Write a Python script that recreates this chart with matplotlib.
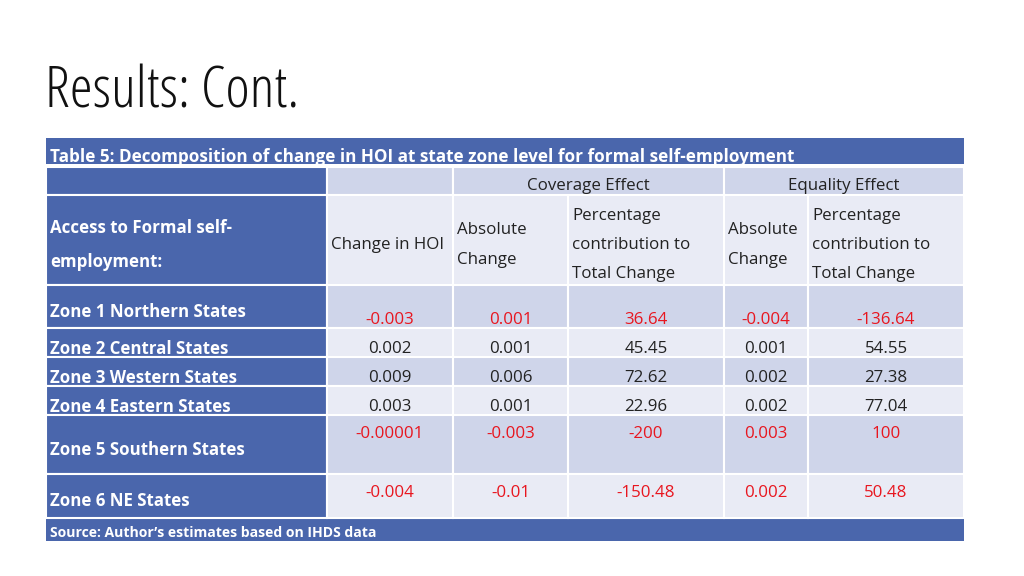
import matplotlib.pyplot as plt
from matplotlib.patches import Rectangle

# table content
title = "Results: Cont."
caption = "Table 5: Decomposition of change in HOI at state zone level for formal self-employment"
source = "Source: Author\u2019s estimates based on IHDS data"
group_headers = ["Coverage Effect", "Equality Effect"]
col_headers = ["Access to Formal self-\nemployment:", "Change in HOI", "Absolute\nChange",
               "Percentage\ncontribution to\nTotal Change", "Absolute\nChange",
               "Percentage\ncontribution to\nTotal Change"]
zones = ["Zone 1 Northern States", "Zone 2 Central States", "Zone 3 Western States",
         "Zone 4 Eastern States", "Zone 5 Southern States", "Zone 6 NE States"]
change_hoi = ["-0.003", "0.002", "0.009", "0.003", "-0.00001", "-0.004"]
cov_abs = ["0.001", "0.001", "0.006", "0.001", "-0.003", "-0.01"]
cov_pct = ["36.64", "45.45", "72.62", "22.96", "-200", "-150.48"]
eq_abs = ["-0.004", "0.001", "0.002", "0.002", "0.003", "0.002"]
eq_pct = ["-136.64", "54.55", "27.38", "77.04", "100", "50.48"]
highlight = [True, False, False, False, True, True]

# layout (pixels)
col_edges = [46, 327, 453, 568, 724, 808, 964]
row_edges = [167, 195, 285, 328, 357, 386, 415, 474, 518]  # header2, header3, zones...
label_y = [312, 349, 378, 407, 450, 501]
value_y = [320, 349, 378, 407, 434, 493]

BLUE = "#4a66ac"
DARK = "#cfd5ea"
LIGHT = "#e9ebf5"
RED = "#e8161f"
FONT = "Open Sans"
FS = 12.2

fig = plt.figure(figsize=(10.24, 5.76), dpi=100)
ax = fig.add_axes([0, 0, 1, 1])
ax.set_xlim(0, 1024)
ax.set_ylim(576, 0)
ax.axis("off")

ax.text(45, 107, title, fontsize=42, family="Open Sans", fontstretch="condensed",
        fontweight=300, color="#111111", va="baseline", ha="left")

# caption band and source band
ax.add_patch(Rectangle((46, 138), 918, 26, facecolor=BLUE, edgecolor="none"))
ax.add_patch(Rectangle((46, 519), 918, 22, facecolor=BLUE, edgecolor="none"))
ax.text(50, 157, caption, fontsize=12.3, fontweight="bold", family=FONT, color="white", va="center")
ax.text(50, 533, source, fontsize=10.1, fontweight="bold", family=FONT, color="white", va="center")

# body cells
for r in range(len(row_edges) - 1):
    y0, y1 = row_edges[r], row_edges[r + 1]
    shade = DARK if r % 2 == 0 else LIGHT
    for c in range(len(col_edges) - 1):
        x0, x1 = col_edges[c], col_edges[c + 1]
        fc = BLUE if c == 0 else shade
        ax.add_patch(Rectangle((x0, y0), x1 - x0, y1 - y0, facecolor=fc,
                               edgecolor="white", linewidth=1.5))

# group header row: merged cells for the two effects
for i, name in enumerate(group_headers):
    x0, x1 = col_edges[2 + 2 * i], col_edges[4 + 2 * i]
    ax.add_patch(Rectangle((x0, row_edges[0]), x1 - x0, row_edges[1] - row_edges[0],
                           facecolor=DARK, edgecolor="white", linewidth=1.5))
    ax.text((x0 + x1) / 2, 186, name, fontsize=FS, family=FONT, color="#222222",
            ha="center", va="center")

# column headers
for c, h in enumerate(col_headers):
    ax.text(col_edges[c] + 4, 245, h, fontsize=FS, family=FONT,
            color="white" if c == 0 else "#222222",
            fontweight="bold" if c == 0 else "normal",
            ha="left", va="center", linespacing=2.1)

# zone rows
cols = [change_hoi, cov_abs, cov_pct, eq_abs, eq_pct]
for r, z in enumerate(zones):
    ax.text(50, label_y[r], z, fontsize=FS, fontweight="bold", family=FONT,
            color="white", va="center")
    color = RED if highlight[r] else "#222222"
    for c, series in enumerate(cols):
        xc = (col_edges[c + 1] + col_edges[c + 2]) / 2
        ax.text(xc, value_y[r], series[r], fontsize=FS, family=FONT, color=color,
                ha="center", va="center")

fig.savefig("out.png", dpi=100)
